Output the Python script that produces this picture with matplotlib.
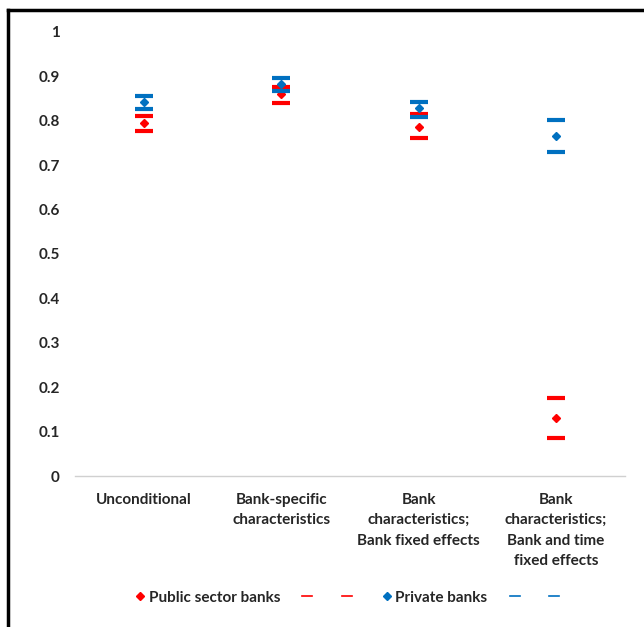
import matplotlib
matplotlib.use('Agg')
import matplotlib.pyplot as plt
from matplotlib.lines import Line2D

# specifications on the x axis
categories = ['Unconditional', 'Bank-specific\ncharacteristics',
              'Bank\ncharacteristics;\nBank fixed effects',
              'Bank\ncharacteristics;\nBank and time\nfixed effects']

# point estimate with upper / lower bound
public_mid = [0.794, 0.860, 0.787, 0.130]
public_hi = [0.811, 0.877, 0.815, 0.176]
public_lo = [0.776, 0.840, 0.761, 0.085]

private_mid = [0.843, 0.882, 0.828, 0.765]
private_hi = [0.856, 0.897, 0.843, 0.802]
private_lo = [0.827, 0.866, 0.809, 0.730]

yticks = [0, 0.1, 0.2, 0.3, 0.4, 0.5, 0.6, 0.7, 0.8, 0.9, 1]

RED = '#FF0000'
BLUE = '#0070C0'

plt.rcParams['font.family'] = ['Lato', 'DejaVu Sans']

fig = plt.figure(figsize=(6.44, 6.27), dpi=100)
ax = fig.add_axes([0.1165, 0.2408, 0.8535, 0.7082])

x = list(range(len(categories)))

# bounds drawn as thick horizontal dashes, estimates as diamonds
for hi, lo, mid, col in [(public_hi, public_lo, public_mid, RED),
                         (private_hi, private_lo, private_mid, BLUE)]:
    ax.plot(x, hi, linestyle='none', marker='_', markersize=13,
            markeredgewidth=3, color=col)
    ax.plot(x, lo, linestyle='none', marker='_', markersize=13,
            markeredgewidth=3, color=col)
    ax.plot(x, mid, linestyle='none', marker='D', markersize=4,
            color=col)

ax.set_xlim(-0.5, 3.5)
ax.set_ylim(0, 1)
ax.set_yticks(yticks)
ax.set_yticklabels(['0' if v == 0 else ('1' if v == 1 else '%.1f' % v) for v in yticks])
ax.set_xticks(x)
ax.set_xticklabels(categories, linespacing=1.6)

for s in ['top', 'right', 'left']:
    ax.spines[s].set_visible(False)
ax.spines['bottom'].set_color('#d0d0d0')
ax.spines['bottom'].set_linewidth(1)

ax.tick_params(axis='both', length=0, labelsize=11, colors='#262626')
ax.tick_params(axis='y', pad=11)
ax.tick_params(axis='x', pad=12)
for lbl in ax.get_xticklabels() + ax.get_yticklabels():
    lbl.set_fontweight('bold')

handles = [
    Line2D([], [], linestyle='none', marker='D', markersize=4, color=RED),
    Line2D([], [], color=RED, linewidth=1.2),
    Line2D([], [], color=RED, linewidth=1.2),
    Line2D([], [], linestyle='none', marker='D', markersize=4, color=BLUE),
    Line2D([], [], color=BLUE, linewidth=1.2),
    Line2D([], [], color=BLUE, linewidth=1.2),
]
labels = ['Public sector banks', ' ', ' ', 'Private banks', ' ', ' ']
leg = fig.legend(handles, labels, loc='center', bbox_to_anchor=(0.545, 0.047),
                 ncol=6, frameon=False, handlelength=0.65, handletextpad=0.25,
                 columnspacing=1.45, prop={'weight': 'bold', 'size': 11})
for t in leg.get_texts():
    t.set_color('#262626')

# black frame lines at top and left edge
fig.add_artist(Line2D([0.0124, 0.0124], [0, 0.984], color='black', linewidth=2.5,
                      transform=fig.transFigure))
fig.add_artist(Line2D([0.0124, 1.0], [0.984, 0.984], color='black', linewidth=2.5,
                      transform=fig.transFigure))

fig.savefig('out.png', dpi=100)
